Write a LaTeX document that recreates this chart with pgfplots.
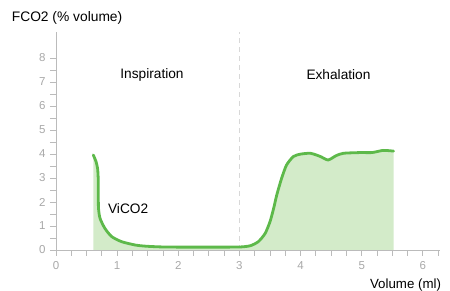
\documentclass[border=0pt]{standalone}
\usepackage{fontspec}
\setmainfont{Liberation Sans}
\usepackage{pgfplots}
\usepackage{pgfplotstable}
\pgfplotsset{compat=1.18}
\definecolor{linegreen}{HTML}{5DB94A}
\definecolor{fillgreen}{HTML}{D3EBC9}
\definecolor{axisgrey}{HTML}{BBBBBB}
\definecolor{ticktext}{HTML}{A8A8A8}
\definecolor{dashgrey}{HTML}{D8D8D8}
\pgfplotstableread{
x y
0.610 3.96
0.655 3.68
0.680 3.40
0.690 2.99
0.692 2.29
0.695 1.74
0.720 1.32
0.800 0.90
0.910 0.56
1.070 0.35
1.290 0.21
1.460 0.16
1.700 0.13
2.000 0.12
2.500 0.12
3.000 0.125
3.180 0.18
3.310 0.35
3.420 0.69
3.500 1.18
3.560 1.74
3.610 2.29
3.690 2.99
3.770 3.54
3.880 3.89
3.990 3.99
4.160 4.03
4.320 3.90
4.450 3.75
4.580 3.93
4.700 4.03
4.980 4.06
5.170 4.06
5.350 4.15
5.520 4.12
}\curve
\begin{document}
\begin{tikzpicture}
\begin{axis}[
  scale only axis,
  width=384pt, height=218.4pt,
  xmin=0, xmax=6.28, ymin=0, ymax=9.1,
  axis lines*=left,
  axis line style={axisgrey, line width=0.8pt},
  xtick={0,1,2,3,4,5,6},
  ytick={0,1,2,3,4,5,6,7,8},
  minor xtick={0.25,0.5,0.75,1.25,1.5,1.75,2.25,2.5,2.75,3.25,3.5,3.75,4.25,4.5,4.75,5.25,5.5,5.75,6.25},
  minor ytick={0.5,1.5,2.5,3.5,4.5,5.5,6.5,7.5},
  tick align=outside,
  major tick length=6pt, minor tick length=6pt,
  tick style={axisgrey, line width=0.8pt},
  every tick label/.append style={text=ticktext, font=\fontsize{11.5}{13}\selectfont},
  /pgf/number format/assume math mode=true,
  xticklabel style={yshift=-2pt},
  yticklabel style={xshift=-1pt},
  clip=false,
]
\coordinate (O) at (axis cs:0,0);
\draw[dashgrey, line width=0.9pt, dash pattern=on 5pt off 4pt] (axis cs:3,0) -- (axis cs:3,9.1);
\addplot[draw=none, fill=fillgreen, smooth, tension=0.4] table[x=x,y=y]{\curve} \closedcycle;
\addplot[linegreen, line width=2.8pt, smooth, tension=0.4, line cap=round, line join=round] table[x=x,y=y]{\curve};
\node[anchor=center, inner sep=0, font=\fontsize{13.7}{15}\selectfont] at (axis cs:1.57,7.3) {Inspiration};
\node[anchor=center, inner sep=0, font=\fontsize{13.7}{15}\selectfont] at (axis cs:4.62,7.3) {Exhalation};
\node[anchor=center, inner sep=0, font=\fontsize{13.7}{15}\selectfont] at (axis cs:1.18,1.74) {ViCO2};
\node[anchor=west, inner sep=0, font=\fontsize{13.8}{15}\selectfont] at (axis cs:-0.725,9.68) {FCO2 (\% volume)};
\node[anchor=east, inner sep=0, font=\fontsize{13.3}{15}\selectfont] at (axis cs:6.30,-1.46) {Volume (ml)};
\end{axis}
\pgfresetboundingbox
\path (O) ++(-56pt,-41pt) rectangle ++(450pt,291pt);
\end{tikzpicture}
\end{document}
